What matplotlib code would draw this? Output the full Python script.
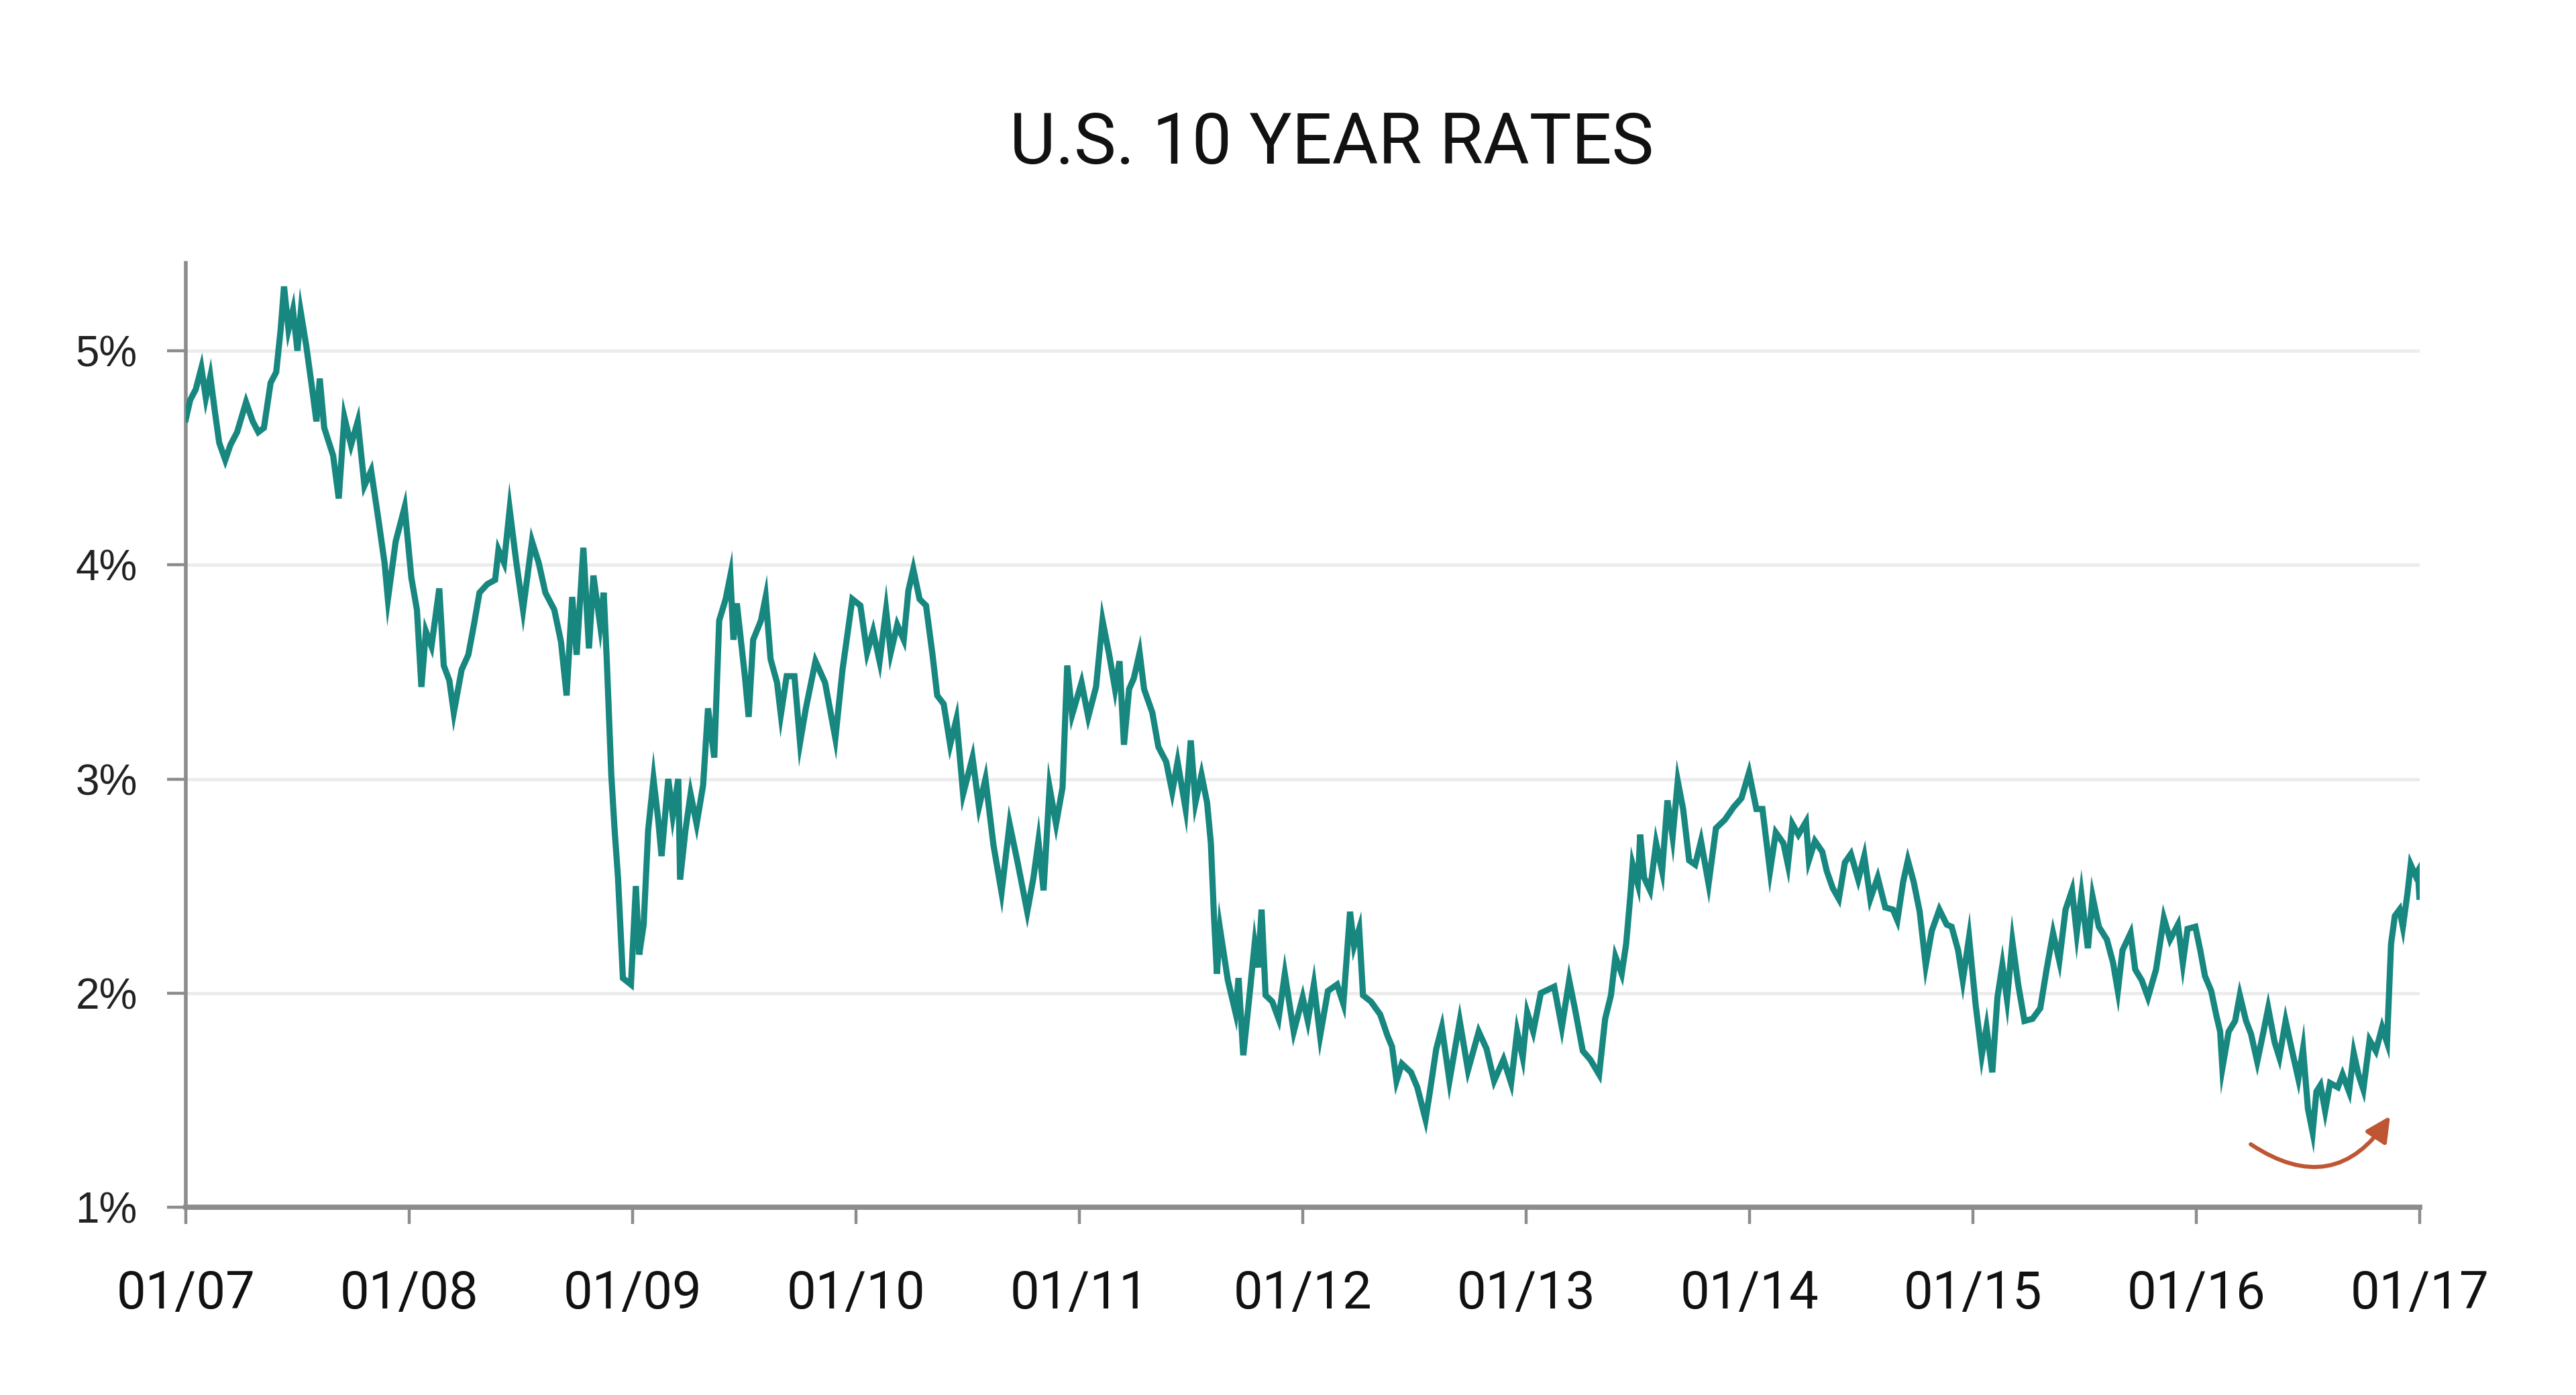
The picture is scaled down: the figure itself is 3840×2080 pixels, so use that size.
"""
plot.py — U.S. 10 year Treasury rates, 2007-2016, read off the reference chart.
Saves out.png (3840x2080).
"""
import numpy as np
import matplotlib
matplotlib.use("Agg")
import matplotlib.pyplot as plt

# decimal year / yield (%) pairs, one block per stretch of the chart
t_2007_08 = [2007.000, 2007.020, 2007.045, 2007.070, 2007.090, 2007.110, 2007.130, 2007.150,
             2007.177, 2007.200, 2007.230, 2007.270, 2007.300, 2007.325, 2007.350, 2007.380,
             2007.405, 2007.425, 2007.440, 2007.460, 2007.480, 2007.500, 2007.515, 2007.540,
             2007.565, 2007.585, 2007.600, 2007.620, 2007.660, 2007.685, 2007.710, 2007.740,
             2007.770, 2007.800, 2007.830, 2007.860, 2007.890, 2007.905, 2007.940, 2007.980,
             2008.010, 2008.035, 2008.055, 2008.075, 2008.100, 2008.135, 2008.155, 2008.180,
             2008.200, 2008.235, 2008.265, 2008.290, 2008.315, 2008.350, 2008.385, 2008.400,
             2008.425, 2008.450, 2008.480, 2008.510, 2008.550, 2008.580, 2008.610, 2008.650,
             2008.680, 2008.705, 2008.730, 2008.750, 2008.780, 2008.805, 2008.825, 2008.855,
             2008.871, 2008.885, 2008.905, 2008.920, 2008.935, 2008.957, 2008.993]
r_2007_08 = [4.68, 4.77, 4.82, 4.92, 4.78, 4.88, 4.72, 4.57,
             4.49, 4.56, 4.62, 4.76, 4.67, 4.62, 4.64, 4.85,
             4.90, 5.10, 5.30, 5.10, 5.19, 5.00, 5.18, 5.02,
             4.83, 4.67, 4.87, 4.64, 4.51, 4.31, 4.69, 4.56,
             4.67, 4.37, 4.44, 4.23, 4.01, 3.84, 4.11, 4.27,
             3.94, 3.79, 3.43, 3.69, 3.62, 3.89, 3.53, 3.46,
             3.31, 3.51, 3.58, 3.72, 3.87, 3.91, 3.93, 4.07,
             4.01, 4.26, 4.01, 3.79, 4.11, 4.01, 3.87, 3.79,
             3.64, 3.39, 3.85, 3.58, 4.08, 3.61, 3.95, 3.72,
             3.87, 3.55, 3.02, 2.76, 2.54, 2.07, 2.04]

t_2009_10 = [2009.015, 2009.030, 2009.050, 2009.070, 2009.094, 2009.115, 2009.130, 2009.160,
             2009.180, 2009.205, 2009.213, 2009.237, 2009.260, 2009.287, 2009.316, 2009.338,
             2009.366, 2009.388, 2009.417, 2009.438, 2009.452, 2009.467, 2009.503, 2009.520,
             2009.540, 2009.575, 2009.596, 2009.618, 2009.647, 2009.664, 2009.690, 2009.725,
             2009.750, 2009.776, 2009.819, 2009.862, 2009.908, 2009.940, 2009.984, 2010.020,
             2010.050, 2010.077, 2010.106, 2010.135, 2010.156, 2010.185, 2010.214, 2010.235,
             2010.257, 2010.285, 2010.314, 2010.343, 2010.364, 2010.393, 2010.422, 2010.450,
             2010.480, 2010.522, 2010.551, 2010.580, 2010.616, 2010.652, 2010.688, 2010.724,
             2010.767, 2010.795, 2010.817, 2010.840, 2010.867, 2010.896, 2010.925, 2010.946,
             2010.968]
r_2009_10 = [2.50, 2.18, 2.32, 2.76, 3.00, 2.81, 2.64, 3.00,
             2.83, 3.00, 2.53, 2.76, 2.93, 2.79, 2.97, 3.33,
             3.10, 3.74, 3.84, 3.95, 3.65, 3.82, 3.48, 3.29,
             3.65, 3.74, 3.85, 3.56, 3.45, 3.30, 3.48, 3.48,
             3.17, 3.33, 3.55, 3.45, 3.19, 3.51, 3.84, 3.81,
             3.59, 3.69, 3.55, 3.79, 3.59, 3.72, 3.65, 3.88,
             3.98, 3.84, 3.81, 3.58, 3.39, 3.35, 3.16, 3.28,
             2.93, 3.10, 2.87, 3.00, 2.69, 2.47, 2.79, 2.61,
             2.38, 2.54, 2.71, 2.48, 2.96, 2.79, 2.96, 3.53,
             3.30]

t_2011_12 = [2011.010, 2011.040, 2011.075, 2011.104, 2011.134, 2011.160, 2011.180, 2011.200,
             2011.223, 2011.244, 2011.270, 2011.290, 2011.327, 2011.354, 2011.389, 2011.416,
             2011.440, 2011.476, 2011.499, 2011.520, 2011.547, 2011.572, 2011.589, 2011.602,
             2011.616, 2011.630, 2011.665, 2011.699, 2011.713, 2011.734, 2011.761, 2011.785,
             2011.800, 2011.816, 2011.834, 2011.864, 2011.892, 2011.920, 2011.960, 2012.000,
             2012.023, 2012.050, 2012.078, 2012.113, 2012.154, 2012.182, 2012.212, 2012.230,
             2012.253, 2012.270, 2012.306, 2012.347, 2012.380, 2012.400, 2012.420, 2012.444,
             2012.485, 2012.513, 2012.550, 2012.568, 2012.598, 2012.623, 2012.657, 2012.703,
             2012.740, 2012.788, 2012.823, 2012.857, 2012.899, 2012.933, 2012.960, 2012.985]
r_2011_12 = [3.45, 3.29, 3.43, 3.74, 3.58, 3.42, 3.55, 3.16,
             3.42, 3.47, 3.59, 3.42, 3.31, 3.15, 3.08, 2.94,
             3.08, 2.86, 3.18, 2.89, 3.02, 2.89, 2.70, 2.38,
             2.09, 2.30, 2.06, 1.91, 2.07, 1.71, 1.98, 2.23,
             2.12, 2.39, 1.99, 1.96, 1.88, 2.09, 1.82, 1.98,
             1.87, 2.04, 1.80, 2.01, 2.04, 1.95, 2.38, 2.22,
             2.30, 1.99, 1.96, 1.90, 1.80, 1.75, 1.59, 1.67,
             1.63, 1.56, 1.41, 1.53, 1.74, 1.84, 1.59, 1.87,
             1.64, 1.82, 1.74, 1.59, 1.69, 1.58, 1.82, 1.70]

t_2013_14 = [2013.005, 2013.032, 2013.066, 2013.086, 2013.126, 2013.160, 2013.193, 2013.220,
             2013.254, 2013.287, 2013.327, 2013.354, 2013.380, 2013.400, 2013.428, 2013.448,
             2013.468, 2013.477, 2013.500, 2013.511, 2013.528, 2013.555, 2013.582, 2013.609,
             2013.633, 2013.656, 2013.679, 2013.703, 2013.730, 2013.757, 2013.783, 2013.817,
             2013.850, 2013.890, 2013.930, 2013.964, 2013.998, 2014.031, 2014.058, 2014.092,
             2014.118, 2014.152, 2014.172, 2014.192, 2014.219, 2014.253, 2014.266, 2014.293,
             2014.326, 2014.346, 2014.373, 2014.400, 2014.427, 2014.454, 2014.487, 2014.514,
             2014.541, 2014.574, 2014.608, 2014.642, 2014.662, 2014.688, 2014.709, 2014.735,
             2014.762, 2014.789, 2014.816, 2014.850, 2014.883, 2014.905, 2014.934, 2014.955,
             2014.983]
r_2013_14 = [1.91, 1.82, 2.00, 2.01, 2.03, 1.84, 2.06, 1.92,
             1.73, 1.69, 1.62, 1.88, 1.99, 2.17, 2.09, 2.23,
             2.47, 2.60, 2.51, 2.74, 2.54, 2.48, 2.70, 2.57,
             2.90, 2.73, 2.99, 2.86, 2.62, 2.60, 2.71, 2.51,
             2.77, 2.81, 2.87, 2.91, 3.03, 2.86, 2.86, 2.57,
             2.75, 2.70, 2.60, 2.79, 2.74, 2.80, 2.62, 2.71,
             2.66, 2.57, 2.49, 2.44, 2.61, 2.65, 2.53, 2.64,
             2.44, 2.54, 2.40, 2.39, 2.34, 2.52, 2.62, 2.52,
             2.38, 2.13, 2.29, 2.39, 2.32, 2.31, 2.20, 2.06,
             2.26]

t_2015_16 = [2015.012, 2015.040, 2015.061, 2015.087, 2015.110, 2015.132, 2015.153, 2015.177,
             2015.203, 2015.231, 2015.267, 2015.302, 2015.330, 2015.359, 2015.387, 2015.415,
             2015.444, 2015.465, 2015.486, 2015.515, 2015.536, 2015.564, 2015.600, 2015.628,
             2015.649, 2015.670, 2015.706, 2015.727, 2015.756, 2015.784, 2015.820, 2015.855,
             2015.883, 2015.918, 2015.940, 2015.961, 2015.996, 2016.018, 2016.039, 2016.067,
             2016.089, 2016.107, 2016.117, 2016.145, 2016.174, 2016.195, 2016.223, 2016.245,
             2016.273, 2016.301, 2016.322, 2016.351, 2016.372, 2016.400, 2016.429, 2016.457,
             2016.478, 2016.500, 2016.521, 2016.538, 2016.556, 2016.577, 2016.599, 2016.634,
             2016.655, 2016.684, 2016.705, 2016.726, 2016.748, 2016.776, 2016.804, 2016.832,
             2016.854, 2016.861, 2016.872, 2016.889, 2016.910, 2016.925, 2016.946, 2016.960,
             2016.981, 2016.992, 2016.999]
r_2015_16 = [1.95, 1.71, 1.84, 1.63, 1.98, 2.13, 1.97, 2.24,
             2.04, 1.87, 1.88, 1.93, 2.11, 2.28, 2.15, 2.39,
             2.48, 2.28, 2.46, 2.21, 2.45, 2.31, 2.25, 2.14,
             2.01, 2.20, 2.28, 2.11, 2.06, 1.98, 2.11, 2.35,
             2.25, 2.32, 2.14, 2.30, 2.31, 2.20, 2.08, 2.01,
             1.90, 1.82, 1.65, 1.82, 1.87, 1.99, 1.87, 1.81,
             1.68, 1.82, 1.93, 1.77, 1.70, 1.87, 1.73, 1.60,
             1.74, 1.46, 1.35, 1.54, 1.57, 1.45, 1.58, 1.56,
             1.62, 1.54, 1.72, 1.62, 1.55, 1.78, 1.73, 1.84,
             1.77, 1.95, 2.23, 2.36, 2.39, 2.31, 2.47, 2.60,
             2.55, 2.57, 2.45]

year_ticks = [2007, 2008, 2009, 2010, 2011, 2012, 2013, 2014, 2015, 2016, 2017]
year_labels = ["01/07", "01/08", "01/09", "01/10", "01/11", "01/12",
               "01/13", "01/14", "01/15", "01/16", "01/17"]
rate_ticks = [1, 2, 3, 4, 5]
rate_labels = ["1%", "2%", "3%", "4%", "5%"]

TEAL = "#17877f"
RUST = "#bf5633"
AXIS_GREY = "#8c8c8c"
NARROW = ["Roboto", "Liberation Sans", "DejaVu Sans"]
REGULAR = ["Liberation Sans", "DejaVu Sans"]

t = np.concatenate([t_2007_08, t_2009_10, t_2011_12, t_2013_14, t_2015_16])
r = np.concatenate([r_2007_08, r_2009_10, r_2011_12, r_2013_14, r_2015_16])

fig = plt.figure(figsize=(19.2, 10.4), dpi=200)
ax = fig.add_axes([0.0721, 0.1346, 0.8672, 0.6769])

ax.plot(t, r, color=TEAL, lw=3.3, solid_joinstyle="miter", zorder=3)

ax.set_xlim(2007, 2017)
ax.set_ylim(1, 5.41)

ax.set_yticks(rate_ticks)
ax.set_yticklabels(rate_labels, family=REGULAR, fontsize=23, color="#222222")
ax.set_xticks(year_ticks)
ax.set_xticklabels(year_labels, family=NARROW, fontsize=28, color="#111111")

ax.grid(axis="y", color="#ececec", lw=1.8, zorder=0)
ax.set_axisbelow(True)

for side in ("top", "right"):
    ax.spines[side].set_visible(False)
ax.spines["left"].set_color(AXIS_GREY)
ax.spines["left"].set_linewidth(2.0)
ax.spines["bottom"].set_color(AXIS_GREY)
ax.spines["bottom"].set_linewidth(2.8)

ax.tick_params(axis="y", direction="out", length=10, width=1.6, color=AXIS_GREY, pad=16)
ax.tick_params(axis="x", direction="out", length=9, width=1.6, color=AXIS_GREY, pad=24)

# curved arrow marking the 2016 turn
ax.annotate("", xy=(2016.868, 1.426), xytext=(2016.244, 1.294),
            arrowprops=dict(arrowstyle="-|>", connectionstyle="arc3,rad=0.5",
                            color=RUST, lw=2.2, mutation_scale=28,
                            shrinkA=0, shrinkB=0),
            annotation_clip=False, zorder=4)

fig.text(0.517, 0.8966, "U.S. 10 YEAR RATES", family=NARROW, fontsize=38,
         ha="center", va="center", color="#111111")

fig.savefig("out.png", dpi=200, facecolor="white")
plt.close(fig)
